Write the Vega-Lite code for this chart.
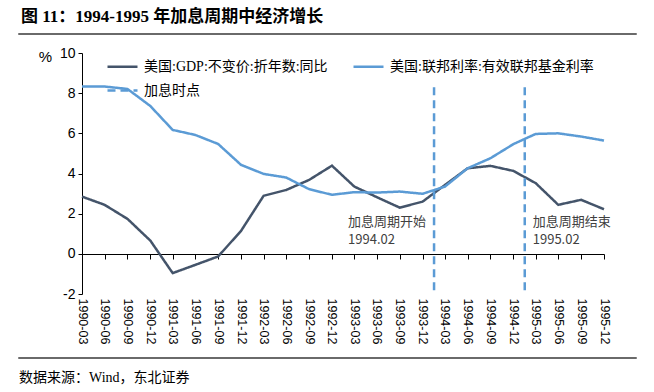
{
  "$schema": "https://vega.github.io/schema/vega-lite/v6.json",
  "background": "white",
  "padding": {"left": 17, "top": 7, "right": 0, "bottom": 0},
  "spacing": 7,
  "config": {
    "view": {"stroke": null},
    "axis": {"grid": false, "labelColor": "#000", "domainColor": "#000", "tickColor": "#000", "titleColor": "#000"}
  },
  "vconcat": [
    {
      "width": 618,
      "height": 1,
      "view": {"stroke": "#6a6a6a", "strokeWidth": 1},
      "title": {"text": "图 11：1994-1995 年加息周期中经济增长", "anchor": "start", "orient": "top", "font": "Liberation Serif, Noto Sans CJK SC", "fontSize": 17, "fontWeight": "bold", "color": "#000", "offset": 2, "dx": 3},
      "data": {"values": [{"t": ""}]},
      "mark": "text",
      "encoding": {"text": {"field": "t", "type": "nominal"}}
    },
    {
      "spacing": 0,
      "hconcat": [
        {
          "width": 0.01,
          "height": 1,
          "data": {"values": [{"t": ""}]},
          "mark": "text",
          "encoding": {"text": {"field": "t", "type": "nominal"}}
        },
        {
          "width": 522,
          "height": 241,
          "resolve": {"axis": {"x": "independent"}},
          "layer": [
            {
              "data": {"values": [
                {"date": "1990-03-31", "series": "美国:GDP:不变价:折年数:同比", "value": 2.85},
                {"date": "1990-06-30", "series": "美国:GDP:不变价:折年数:同比", "value": 2.44},
                {"date": "1990-09-30", "series": "美国:GDP:不变价:折年数:同比", "value": 1.74},
                {"date": "1990-12-31", "series": "美国:GDP:不变价:折年数:同比", "value": 0.66},
                {"date": "1991-03-31", "series": "美国:GDP:不变价:折年数:同比", "value": -0.96},
                {"date": "1991-06-30", "series": "美国:GDP:不变价:折年数:同比", "value": -0.55},
                {"date": "1991-09-30", "series": "美国:GDP:不变价:折年数:同比", "value": -0.13},
                {"date": "1991-12-31", "series": "美国:GDP:不变价:折年数:同比", "value": 1.14},
                {"date": "1992-03-31", "series": "美国:GDP:不变价:折年数:同比", "value": 2.89},
                {"date": "1992-06-30", "series": "美国:GDP:不变价:折年数:同比", "value": 3.18},
                {"date": "1992-09-30", "series": "美国:GDP:不变价:折年数:同比", "value": 3.68},
                {"date": "1992-12-31", "series": "美国:GDP:不变价:折年数:同比", "value": 4.39},
                {"date": "1993-03-31", "series": "美国:GDP:不变价:折年数:同比", "value": 3.35},
                {"date": "1993-06-30", "series": "美国:GDP:不变价:折年数:同比", "value": 2.82},
                {"date": "1993-09-30", "series": "美国:GDP:不变价:折年数:同比", "value": 2.3},
                {"date": "1993-12-31", "series": "美国:GDP:不变价:折年数:同比", "value": 2.6},
                {"date": "1994-03-31", "series": "美国:GDP:不变价:折年数:同比", "value": 3.43},
                {"date": "1994-06-30", "series": "美国:GDP:不变价:折年数:同比", "value": 4.26},
                {"date": "1994-09-30", "series": "美国:GDP:不变价:折年数:同比", "value": 4.38},
                {"date": "1994-12-31", "series": "美国:GDP:不变价:折年数:同比", "value": 4.13},
                {"date": "1995-03-31", "series": "美国:GDP:不变价:折年数:同比", "value": 3.52},
                {"date": "1995-06-30", "series": "美国:GDP:不变价:折年数:同比", "value": 2.44},
                {"date": "1995-09-30", "series": "美国:GDP:不变价:折年数:同比", "value": 2.69},
                {"date": "1995-12-31", "series": "美国:GDP:不变价:折年数:同比", "value": 2.22},
                {"date": "1990-03-31", "series": "美国:联邦利率:有效联邦基金利率", "value": 8.33},
                {"date": "1990-06-30", "series": "美国:联邦利率:有效联邦基金利率", "value": 8.33},
                {"date": "1990-09-30", "series": "美国:联邦利率:有效联邦基金利率", "value": 8.21},
                {"date": "1990-12-31", "series": "美国:联邦利率:有效联邦基金利率", "value": 7.36},
                {"date": "1991-03-31", "series": "美国:联邦利率:有效联邦基金利率", "value": 6.17},
                {"date": "1991-06-30", "series": "美国:联邦利率:有效联邦基金利率", "value": 5.92},
                {"date": "1991-09-30", "series": "美国:联邦利率:有效联邦基金利率", "value": 5.47},
                {"date": "1991-12-31", "series": "美国:联邦利率:有效联邦基金利率", "value": 4.43},
                {"date": "1992-03-31", "series": "美国:联邦利率:有效联邦基金利率", "value": 3.98},
                {"date": "1992-06-30", "series": "美国:联邦利率:有效联邦基金利率", "value": 3.8},
                {"date": "1992-09-30", "series": "美国:联邦利率:有效联邦基金利率", "value": 3.22},
                {"date": "1992-12-31", "series": "美国:联邦利率:有效联邦基金利率", "value": 2.94},
                {"date": "1993-03-31", "series": "美国:联邦利率:有效联邦基金利率", "value": 3.07},
                {"date": "1993-06-30", "series": "美国:联邦利率:有效联邦基金利率", "value": 3.05},
                {"date": "1993-09-30", "series": "美国:联邦利率:有效联邦基金利率", "value": 3.1},
                {"date": "1993-12-31", "series": "美国:联邦利率:有效联邦基金利率", "value": 2.99},
                {"date": "1994-03-31", "series": "美国:联邦利率:有效联邦基金利率", "value": 3.35},
                {"date": "1994-06-30", "series": "美国:联邦利率:有效联邦基金利率", "value": 4.26},
                {"date": "1994-09-30", "series": "美国:联邦利率:有效联邦基金利率", "value": 4.76},
                {"date": "1994-12-31", "series": "美国:联邦利率:有效联邦基金利率", "value": 5.46},
                {"date": "1995-03-31", "series": "美国:联邦利率:有效联邦基金利率", "value": 5.97},
                {"date": "1995-06-30", "series": "美国:联邦利率:有效联邦基金利率", "value": 6.0},
                {"date": "1995-09-30", "series": "美国:联邦利率:有效联邦基金利率", "value": 5.84},
                {"date": "1995-12-31", "series": "美国:联邦利率:有效联邦基金利率", "value": 5.64}
              ]},
              "mark": {"type": "line", "strokeWidth": 2.5},
              "encoding": {
                "x": {
                  "field": "date", "type": "temporal",
                  "scale": {"type": "utc", "nice": false, "padding": 0,
                    "domain": [{"year": 1990, "month": 3, "date": 31, "utc": true}, {"year": 1995, "month": 12, "date": 31, "utc": true}]},
                  "axis": {
                    "orient": "bottom", "title": null, "domain": false, "ticks": false,
                    "labelAngle": 90, "labelFont": "Liberation Sans", "labelFontSize": 12.5, "labelPadding": 4,
                    "labelExpr": "utcFormat(datum.value, '%Y-%m')",
                    "values": [
                      {"year": 1990, "month": 3, "date": 31, "utc": true}, {"year": 1990, "month": 6, "date": 30, "utc": true},
                      {"year": 1990, "month": 9, "date": 30, "utc": true}, {"year": 1990, "month": 12, "date": 31, "utc": true},
                      {"year": 1991, "month": 3, "date": 31, "utc": true}, {"year": 1991, "month": 6, "date": 30, "utc": true},
                      {"year": 1991, "month": 9, "date": 30, "utc": true}, {"year": 1991, "month": 12, "date": 31, "utc": true},
                      {"year": 1992, "month": 3, "date": 31, "utc": true}, {"year": 1992, "month": 6, "date": 30, "utc": true},
                      {"year": 1992, "month": 9, "date": 30, "utc": true}, {"year": 1992, "month": 12, "date": 31, "utc": true},
                      {"year": 1993, "month": 3, "date": 31, "utc": true}, {"year": 1993, "month": 6, "date": 30, "utc": true},
                      {"year": 1993, "month": 9, "date": 30, "utc": true}, {"year": 1993, "month": 12, "date": 31, "utc": true},
                      {"year": 1994, "month": 3, "date": 31, "utc": true}, {"year": 1994, "month": 6, "date": 30, "utc": true},
                      {"year": 1994, "month": 9, "date": 30, "utc": true}, {"year": 1994, "month": 12, "date": 31, "utc": true},
                      {"year": 1995, "month": 3, "date": 31, "utc": true}, {"year": 1995, "month": 6, "date": 30, "utc": true},
                      {"year": 1995, "month": 9, "date": 30, "utc": true}, {"year": 1995, "month": 12, "date": 31, "utc": true}
                    ]
                  }
                },
                "y": {
                  "field": "value", "type": "quantitative",
                  "scale": {"domain": [-2, 10], "nice": false, "zero": false},
                  "axis": {
                    "values": [-2, 0, 2, 4, 6, 8, 10], "labelExpr": "'' + datum.value", "tickSize": 4, "labelFont": "Liberation Sans", "labelFontSize": 14, "labelPadding": 3,
                    "title": "%", "titleAngle": 0, "titleX": -37, "titleY": 3, "titleAlign": "center", "titleBaseline": "middle",
                    "titleFont": "Liberation Sans", "titleFontSize": 15, "titleFontWeight": "normal", "minExtent": 63
                  }
                },
                "color": {
                  "field": "series", "type": "nominal",
                  "scale": {"domain": ["美国:GDP:不变价:折年数:同比", "美国:联邦利率:有效联邦基金利率", "加息时点"], "range": ["#44546A", "#5B9BD5", "#5B9BD5"]},
                  "legend": {"title": null, "orient": "none", "legendX": 88, "legendY": 17, "direction": "horizontal", "columns": 2,
                    "symbolType": "stroke", "symbolSize": 900, "symbolStrokeWidth": 2.5, "labelFont": "Liberation Serif, Noto Sans CJK SC",
                    "labelFontSize": 14, "labelColor": "#000", "labelLimit": 0, "columnPadding": 20, "rowPadding": -13, "labelOffset": 5, "padding": 0}
                },
                "strokeDash": {
                  "field": "series", "type": "nominal",
                  "scale": {"domain": ["美国:GDP:不变价:折年数:同比", "美国:联邦利率:有效联邦基金利率", "加息时点"], "range": [[1, 0], [1, 0], [8, 5]]},
                  "legend": {"title": null, "orient": "none", "legendX": 88, "legendY": 17, "direction": "horizontal", "columns": 2,
                    "symbolType": "stroke", "symbolSize": 900, "symbolStrokeWidth": 2.5, "labelFont": "Liberation Serif, Noto Sans CJK SC",
                    "labelFontSize": 14, "labelColor": "#000", "labelLimit": 0, "columnPadding": 20, "rowPadding": -13, "labelOffset": 5, "padding": 0}
                }
              }
            },
            {
              "data": {"values": [
                {"date": "1994-02-15", "series": "加息时点"},
                {"date": "1995-02-15", "series": "加息时点"}
              ]},
              "mark": {"type": "rule", "strokeWidth": 2.5},
              "encoding": {
                "x": {
                  "field": "date", "type": "temporal",
                  "axis": {
                    "orient": "bottom", "offset": -40, "title": null, "labels": false, "ticks": true, "tickSize": 5, "domain": true,
                    "values": [
                      {"year": 1990, "month": 3, "date": 31, "utc": true}, {"year": 1990, "month": 6, "date": 30, "utc": true},
                      {"year": 1990, "month": 9, "date": 30, "utc": true}, {"year": 1990, "month": 12, "date": 31, "utc": true},
                      {"year": 1991, "month": 3, "date": 31, "utc": true}, {"year": 1991, "month": 6, "date": 30, "utc": true},
                      {"year": 1991, "month": 9, "date": 30, "utc": true}, {"year": 1991, "month": 12, "date": 31, "utc": true},
                      {"year": 1992, "month": 3, "date": 31, "utc": true}, {"year": 1992, "month": 6, "date": 30, "utc": true},
                      {"year": 1992, "month": 9, "date": 30, "utc": true}, {"year": 1992, "month": 12, "date": 31, "utc": true},
                      {"year": 1993, "month": 3, "date": 31, "utc": true}, {"year": 1993, "month": 6, "date": 30, "utc": true},
                      {"year": 1993, "month": 9, "date": 30, "utc": true}, {"year": 1993, "month": 12, "date": 31, "utc": true},
                      {"year": 1994, "month": 3, "date": 31, "utc": true}, {"year": 1994, "month": 6, "date": 30, "utc": true},
                      {"year": 1994, "month": 9, "date": 30, "utc": true}, {"year": 1994, "month": 12, "date": 31, "utc": true},
                      {"year": 1995, "month": 3, "date": 31, "utc": true}, {"year": 1995, "month": 6, "date": 30, "utc": true},
                      {"year": 1995, "month": 9, "date": 30, "utc": true}, {"year": 1995, "month": 12, "date": 31, "utc": true}
                    ]
                  }
                },
                "y": {"datum": 8.3},
                "y2": {"datum": -1.9},
                "color": {"field": "series", "type": "nominal"},
                "strokeDash": {"field": "series", "type": "nominal"}
              }
            },
            {
              "data": {"values": [{"date": "1994-02-15", "label": "加息周期开始\n1994.02"}]},
              "mark": {"type": "text", "align": "left", "baseline": "top", "dx": -86, "dy": 2, "lineBreak": "\n", "lineHeight": 18,
                "font": "Noto Sans CJK SC", "fontSize": 13, "color": "#404040"},
              "encoding": {
                "x": {"field": "date", "type": "temporal", "axis": null},
                "y": {"datum": 2},
                "text": {"field": "label"}
              }
            },
            {
              "data": {"values": [{"date": "1995-02-15", "label": "加息周期结束\n1995.02"}]},
              "mark": {"type": "text", "align": "left", "baseline": "top", "dx": 8, "dy": 2, "lineBreak": "\n", "lineHeight": 18,
                "font": "Noto Sans CJK SC", "fontSize": 13, "color": "#404040"},
              "encoding": {
                "x": {"field": "date", "type": "temporal", "axis": null},
                "y": {"datum": 2},
                "text": {"field": "label"}
              }
            }
          ]
        }
      ]
    },
    {
      "width": 618,
      "height": 1,
      "view": {"stroke": "#6a6a6a", "strokeWidth": 1},
      "title": {"text": "数据来源：Wind，东北证券", "anchor": "start", "orient": "bottom", "font": "Liberation Serif, Noto Sans CJK SC", "fontSize": 14, "fontWeight": "normal", "color": "#000", "offset": 8, "baseline": "top", "dx": 1},
      "data": {"values": [{"t": ""}]},
      "mark": "text",
      "encoding": {"text": {"field": "t", "type": "nominal"}}
    }
  ]
}
